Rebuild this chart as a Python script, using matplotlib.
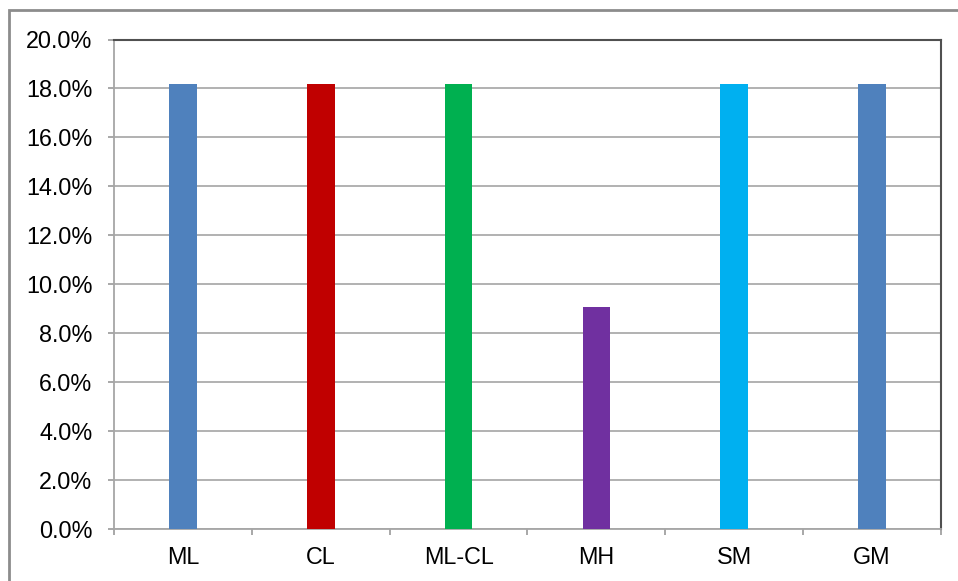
import matplotlib
matplotlib.use("Agg")
import matplotlib.pyplot as plt
from matplotlib.patches import Rectangle
from matplotlib.ticker import FixedLocator, PercentFormatter

categories = ["ML", "CL", "ML-CL", "MH", "SM", "GM"]
shares = [18.18, 18.18, 18.18, 9.09, 18.18, 18.18]
colors = ["#4F81BD", "#C00000", "#00B050", "#7030A0", "#00B0F0", "#4F81BD"]
y_ticks = [0, 2, 4, 6, 8, 10, 12, 14, 16, 18, 20]

plt.rcParams["font.family"] = ["Liberation Sans", "DejaVu Sans"]

W, H = 958, 581
fig = plt.figure(figsize=(W / 100, H / 100), dpi=100)
ax = fig.add_axes([114 / W, 1 - 529 / H, (941 - 114) / W, (529 - 39.5) / H])

x = list(range(len(categories)))
ax.bar(x, shares, width=0.2, color=colors, zorder=3)

ax.set_xlim(-0.5, len(categories) - 0.5)
ax.set_ylim(0, 20)
ax.yaxis.set_major_locator(FixedLocator(y_ticks))
ax.yaxis.set_major_formatter(PercentFormatter(decimals=1))
ax.grid(axis="y", color="#ababab", linewidth=1.3, zorder=0)

ax.set_xticks(x)
ax.set_xticklabels(categories)
ax.set_xticks([i + 0.5 for i in range(-1, len(categories))], minor=True)
ax.tick_params(axis="x", which="major", length=0, pad=12.5, labelsize=16.8)
ax.tick_params(axis="x", which="minor", length=4, width=1.2, color="#999999")
ax.tick_params(axis="y", length=4.5, width=1.2, color="#999999", pad=11, labelsize=16.8)

for side in ("left", "bottom"):
    ax.spines[side].set_color("#a6a6a6")
    ax.spines[side].set_linewidth(1.3)
for side in ("top", "right"):
    ax.spines[side].set_color("#505050")
    ax.spines[side].set_linewidth(1.5)

# outer chart frame
frame = Rectangle((8.5 / W, -0.05), 1.1, 1 - 10.5 / H + 0.05,
                  transform=fig.transFigure, fill=False,
                  edgecolor="#8c8c8c", linewidth=2)
fig.add_artist(frame)

fig.savefig("out.png", dpi=100)
